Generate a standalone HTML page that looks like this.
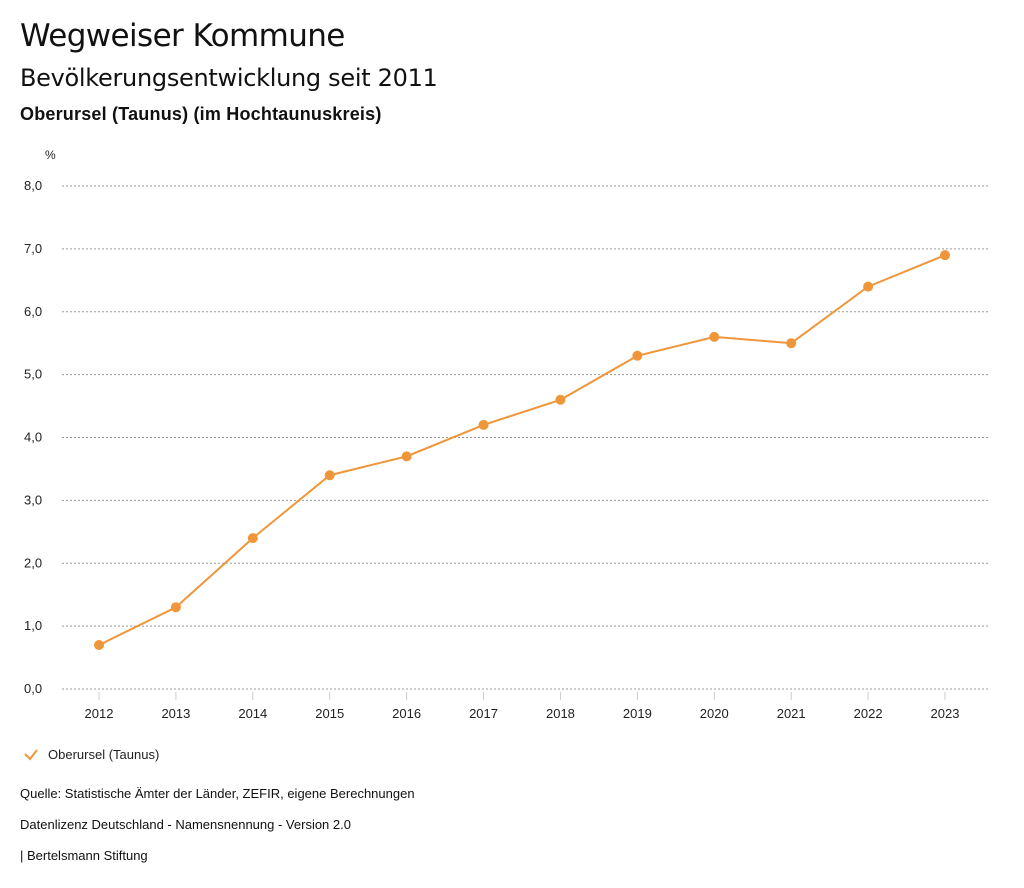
<!DOCTYPE html>
<html><head><meta charset="utf-8"><style>
body{margin:0;background:#fff;width:1024px;height:888px;overflow:hidden;font-family:"Liberation Sans","DejaVu Sans",sans-serif;color:#111}
.t{position:absolute;left:20px;white-space:nowrap}
</style></head><body>
<div class="t" style="top:18px;font-size:31px;font-family:'DejaVu Sans',sans-serif;letter-spacing:-0.6px">Wegweiser Kommune</div>
<div class="t" style="top:64px;font-size:24px;font-family:'DejaVu Sans',sans-serif;letter-spacing:-0.3px">Bevölkerungsentwicklung seit 2011</div>
<div class="t" style="top:104px;font-size:18px;font-weight:bold;letter-spacing:0.2px">Oberursel (Taunus) (im Hochtaunuskreis)</div>
<svg id="c" width="1024" height="888" style="position:absolute;left:0;top:0"></svg>
<div class="t" style="top:786px;font-size:13px">Quelle: Statistische Ämter der Länder, ZEFIR, eigene Berechnungen</div>
<div class="t" style="top:817px;font-size:13px">Datenlizenz Deutschland - Namensnennung - Version 2.0</div>
<div class="t" style="top:848px;font-size:13px">| Bertelsmann Stiftung</div>
<script>
const years=["2012","2013","2014","2015","2016","2017","2018","2019","2020","2021","2022","2023"];
const values=[0.7,1.3,2.4,3.4,3.7,4.2,4.6,5.3,5.6,5.5,6.4,6.9];
const yTicks=[0,1,2,3,4,5,6,7,8];
const NS="http://www.w3.org/2000/svg",svg=document.getElementById('c');
const x=i=>99+i*(945-99)/(years.length-1);
const y=v=>689-v*(689-186)/8;
function mk(t,a,txt){const e=document.createElementNS(NS,t);for(const k in a)e.setAttribute(k,a[k]);if(txt!==undefined)e.textContent=txt;svg.appendChild(e);return e;}
let u=mk('text',{x:45,y:159,'font-size':12,fill:'#222'},'%');


yTicks.forEach(v=>{
 let g=mk('line',{x1:62,x2:990,y1:y(v),y2:y(v),stroke:'#999','stroke-dasharray':'2,2'});
 
 
 let t=mk('text',{x:24,y:y(v)+4,'font-size':13,fill:'#222'},v.toFixed(1).replace('.',','));
 
 
});
years.forEach((yr,i)=>{
 let k=mk('line',{x1:x(i),x2:x(i),y1:692,y2:700,stroke:'#ccc'});
 
 
 let t=mk('text',{x:x(i),y:718,'font-size':13,fill:'#222','text-anchor':'middle'},yr);
 
 
});
let p=mk('polyline',{points:values.map((v,i)=>x(i)+','+y(v)).join(' '),fill:'none',stroke:'#f0963a','stroke-width':2});


values.forEach((v,i)=>{
 let c=mk('circle',{cx:x(i),cy:y(v),r:5,fill:'#f0963a'});
 
 
});
let lg=mk('path',{d:'M25 754 L30 759 L37 750',fill:'none',stroke:'#f0963a','stroke-width':2});


let lt=mk('text',{x:48,y:759,'font-size':13,fill:'#222'},'Oberursel (Taunus)');


</script>
</body></html>
